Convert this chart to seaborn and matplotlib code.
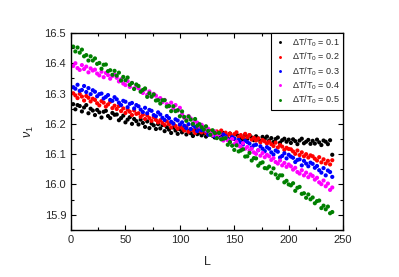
import numpy as np
import pandas as pd
import matplotlib
matplotlib.use("Agg")
import matplotlib.pyplot as plt
import seaborn as sns

# L = 2, 4, ..., 240
L = np.arange(2, 242, 2)

v_01 = [
    16.265, 16.248, 16.262, 16.259, 16.241, 16.254, 16.262, 16.235, 16.250, 16.244,
    16.229, 16.246, 16.238, 16.221, 16.240, 16.243, 16.226, 16.219, 16.236, 16.230,
    16.231, 16.212, 16.219, 16.227, 16.205, 16.214, 16.222, 16.200, 16.216, 16.209,
    16.198, 16.214, 16.203, 16.190, 16.208, 16.186, 16.201, 16.195, 16.183, 16.199,
    16.185, 16.196, 16.176, 16.189, 16.181, 16.170, 16.188, 16.178, 16.167, 16.182,
    16.172, 16.180, 16.165, 16.176, 16.169, 16.160, 16.178, 16.166, 16.171, 16.162,
    16.170, 16.158, 16.166, 16.173, 16.161, 16.155, 16.169, 16.164, 16.157, 16.170,
    16.163, 16.152, 16.168, 16.158, 16.150, 16.165, 16.160, 16.154, 16.148, 16.164,
    16.151, 16.162, 16.155, 16.146, 16.159, 16.152, 16.143, 16.157, 16.150, 16.158,
    16.145, 16.153, 16.140, 16.150, 16.155, 16.138, 16.146, 16.151, 16.141, 16.148,
    16.137, 16.149, 16.143, 16.133, 16.145, 16.151, 16.136, 16.141, 16.147, 16.134,
    16.144, 16.135, 16.148, 16.139, 16.130, 16.145, 16.141, 16.133, 16.146, 16.098,
]

v_02 = [
    16.301, 16.294, 16.285, 16.299, 16.290, 16.277, 16.292, 16.286, 16.274, 16.283,
    16.279, 16.268, 16.261, 16.275, 16.270, 16.257, 16.264, 16.273, 16.252, 16.260,
    16.249, 16.259, 16.242, 16.251, 16.236, 16.247, 16.240, 16.229, 16.244, 16.233,
    16.235, 16.223, 16.230, 16.216, 16.228, 16.219, 16.210, 16.222, 16.213, 16.205,
    16.212, 16.203, 16.196, 16.208, 16.199, 16.188, 16.201, 16.193, 16.184, 16.195,
    16.186, 16.178, 16.191, 16.174, 16.183, 16.179, 16.170, 16.185, 16.176, 16.172,
    16.180, 16.170, 16.165, 16.177, 16.172, 16.163, 16.175, 16.168, 16.178, 16.166,
    16.171, 16.162, 16.168, 16.158, 16.166, 16.172, 16.157, 16.163, 16.155, 16.167,
    16.156, 16.163, 16.148, 16.154, 16.145, 16.152, 16.139, 16.147, 16.142, 16.135,
    16.141, 16.133, 16.127, 16.138, 16.122, 16.130, 16.125, 16.114, 16.121, 16.117,
    16.116, 16.109, 16.101, 16.112, 16.097, 16.106, 16.093, 16.100, 16.089, 16.096,
    16.093, 16.085, 16.079, 16.090, 16.073, 16.083, 16.069, 16.078, 16.066, 16.080,
]

v_03 = [
    16.321, 16.316, 16.329, 16.309, 16.312, 16.325, 16.305, 16.318, 16.298, 16.311,
    16.306, 16.291, 16.298, 16.300, 16.284, 16.289, 16.295, 16.279, 16.276, 16.288,
    16.281, 16.270, 16.262, 16.276, 16.273, 16.255, 16.266, 16.269, 16.251, 16.262,
    16.258, 16.247, 16.239, 16.253, 16.235, 16.246, 16.243, 16.229, 16.225, 16.238,
    16.231, 16.220, 16.213, 16.226, 16.219, 16.207, 16.201, 16.215, 16.211, 16.198,
    16.205, 16.194, 16.186, 16.199, 16.183, 16.196, 16.190, 16.176, 16.185, 16.179,
    16.181, 16.176, 16.164, 16.170, 16.172, 16.159, 16.156, 16.168, 16.153, 16.165,
    16.159, 16.149, 16.142, 16.156, 16.152, 16.135, 16.147, 16.139, 16.132, 16.144,
    16.140, 16.135, 16.122, 16.129, 16.131, 16.113, 16.126, 16.118, 16.110, 16.123,
    16.118, 16.106, 16.099, 16.112, 16.108, 16.089, 16.094, 16.103, 16.086, 16.098,
    16.092, 16.088, 16.074, 16.081, 16.083, 16.063, 16.078, 16.069, 16.060, 16.072,
    16.068, 16.055, 16.061, 16.047, 16.039, 16.054, 16.030, 16.046, 16.041, 16.025,
]

v_04 = [
    16.391, 16.400, 16.384, 16.378, 16.394, 16.381, 16.389, 16.370, 16.383, 16.376,
    16.379, 16.366, 16.360, 16.372, 16.354, 16.368, 16.361, 16.349, 16.358, 16.363,
    16.352, 16.340, 16.347, 16.333, 16.328, 16.341, 16.322, 16.335, 16.317, 16.326,
    16.318, 16.309, 16.302, 16.314, 16.296, 16.307, 16.290, 16.299, 16.293, 16.281,
    16.285, 16.272, 16.279, 16.265, 16.258, 16.270, 16.251, 16.262, 16.244, 16.253,
    16.232, 16.220, 16.213, 16.226, 16.218, 16.201, 16.210, 16.204, 16.191, 16.197,
    16.190, 16.178, 16.184, 16.170, 16.163, 16.175, 16.158, 16.166, 16.151, 16.145,
    16.154, 16.146, 16.139, 16.150, 16.133, 16.141, 16.128, 16.124, 16.136, 16.118,
    16.124, 16.112, 16.118, 16.106, 16.101, 16.113, 16.095, 16.104, 16.090, 16.098,
    16.093, 16.081, 16.087, 16.074, 16.069, 16.079, 16.063, 16.071, 16.058, 16.066,
    16.060, 16.049, 16.055, 16.041, 16.036, 16.047, 16.030, 16.039, 16.024, 16.033,
    16.028, 16.016, 16.022, 16.007, 16.001, 16.013, 15.994, 16.003, 15.982, 15.990,
]

v_05 = [
    16.455, 16.439, 16.452, 16.435, 16.445, 16.423, 16.427, 16.409, 16.423, 16.409,
    16.416, 16.398, 16.401, 16.382, 16.395, 16.396, 16.374, 16.377, 16.362, 16.375,
    16.359, 16.369, 16.343, 16.355, 16.344, 16.353, 16.329, 16.335, 16.315, 16.330,
    16.325, 16.306, 16.312, 16.317, 16.289, 16.301, 16.290, 16.297, 16.277, 16.278,
    16.267, 16.278, 16.278, 16.257, 16.259, 16.242, 16.258, 16.242, 16.245, 16.225,
    16.241, 16.223, 16.210, 16.224, 16.214, 16.200, 16.216, 16.194, 16.199, 16.189,
    16.181, 16.192, 16.177, 16.164, 16.179, 16.170, 16.153, 16.170, 16.149, 16.151,
    16.153, 16.131, 16.140, 16.128, 16.114, 16.129, 16.109, 16.112, 16.116, 16.092,
    16.093, 16.104, 16.079, 16.087, 16.086, 16.062, 16.070, 16.073, 16.054, 16.053,
    16.059, 16.039, 16.053, 16.033, 16.021, 16.030, 16.030, 16.007, 16.012, 16.000,
    15.997, 16.004, 15.979, 15.989, 15.992, 15.969, 15.971, 15.956, 15.967, 15.951,
    15.957, 15.938, 15.945, 15.947, 15.922, 15.930, 15.918, 15.927, 15.905, 15.909,
]

labels = [
    r'$\Delta\mathrm{T/T}_0$ = 0.1',
    r'$\Delta\mathrm{T/T}_0$ = 0.2',
    r'$\Delta\mathrm{T/T}_0$ = 0.3',
    r'$\Delta\mathrm{T/T}_0$ = 0.4',
    r'$\Delta\mathrm{T/T}_0$ = 0.5',
]
colors = ['black', '#ff0000', '#0000ff', '#ff00ff', '#008000']

df = pd.concat([
    pd.DataFrame({'L': L, 'v': v, 'series': lab})
    for v, lab in zip([v_01, v_02, v_03, v_04, v_05], labels)
])

sns.set_style('ticks')
plt.rcParams['font.family'] = ['Liberation Sans', 'DejaVu Sans']
plt.rcParams['mathtext.fontset'] = 'custom'
plt.rcParams['mathtext.rm'] = 'Liberation Sans'
plt.rcParams['mathtext.it'] = 'Liberation Sans:italic'

fig = plt.figure(figsize=(3.99, 2.77), dpi=100)
ax = fig.add_axes([0.178, 0.170, 0.682, 0.711])

sns.scatterplot(
    data=df,
    x='L',
    y='v',
    hue='series',
    palette=colors,
    s=9,
    linewidth=0,
    ax=ax
)

ax.set_xlim(0, 250)
ax.set_ylim(15.85, 16.5)
ax.set_xticks([0, 50, 100, 150, 200, 250])
ax.set_xticks([25, 75, 125, 175, 225], minor=True)
ax.set_yticks([15.9, 16.0, 16.1, 16.2, 16.3, 16.4, 16.5])
ax.set_yticks(np.arange(15.85, 16.5, 0.1), minor=True)
ax.set_yticklabels(['15.9', '16.0', '16.1', '16.2', '16.3', '16.4', '16.5'])

ax.tick_params(which='both', direction='in', top=True, right=True,
               labelsize=8, width=0.8, color='black')
ax.tick_params(which='major', length=3.5)
ax.tick_params(which='minor', length=2)
for sp in ax.spines.values():
    sp.set_linewidth(1.0)
    sp.set_color('black')

ax.set_xlabel('L', fontsize=9, labelpad=8)
ax.set_ylabel(r'$\nu_1$', fontsize=9, labelpad=6)

handles, labs = ax.get_legend_handles_labels()
leg = ax.legend(
    handles, labs,
    loc='upper right',
    fontsize=6.5,
    frameon=True,
    fancybox=False,
    edgecolor='black',
    framealpha=1,
    borderaxespad=0,
    labelspacing=0.2,
    handletextpad=0.7,
    handlelength=1.2,
    markerscale=0.7,
    borderpad=0.4,
)
leg.get_frame().set_linewidth(0.8)

fig.savefig('out.png', dpi=100)
